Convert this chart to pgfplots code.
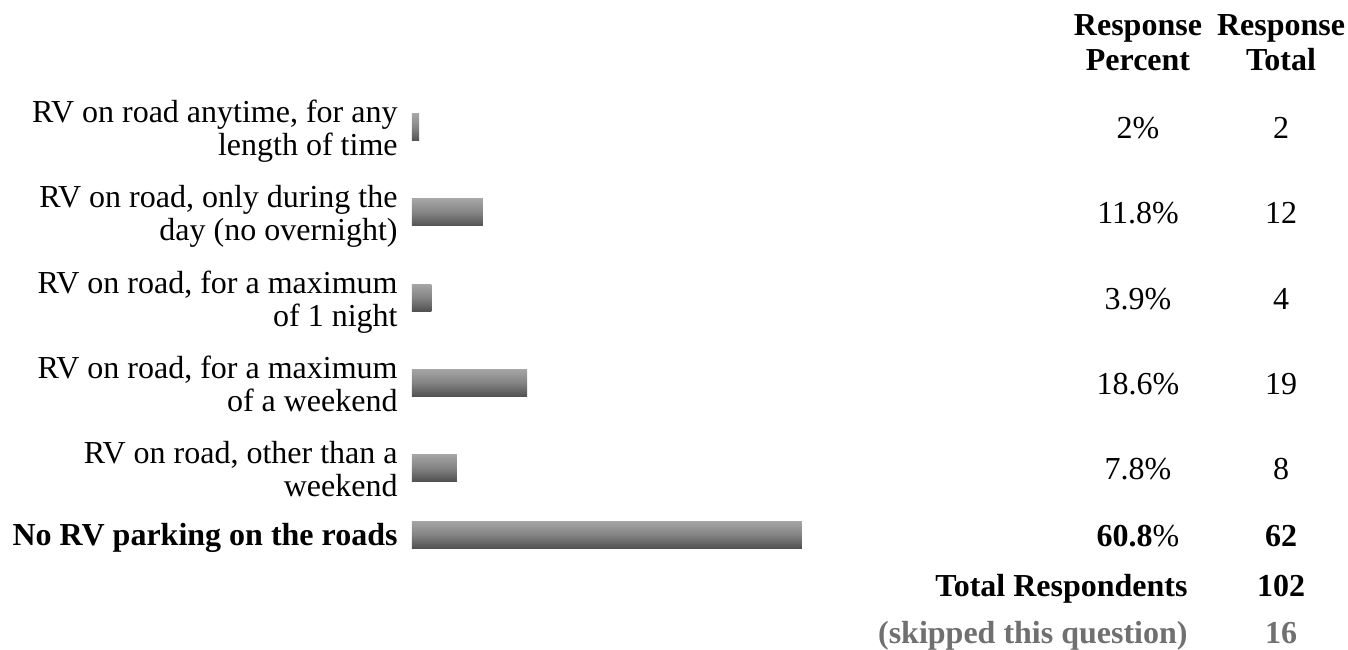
\documentclass[border=0pt]{standalone}
\usepackage{pgfplots}
\pgfplotsset{compat=1.18}
\usepackage{fontspec}
\setmainfont{Liberation Serif}
\definecolor{bartop}{RGB}{166,166,166}
\definecolor{barbot}{RGB}{82,82,82}
\definecolor{skipgray}{RGB}{112,112,112}
\pgfplotsset{rvbar/.style={xbar, bar width=27, bar shift=0pt, draw=none, top color=bartop, bottom color=barbot, middle color={rgb,255:red,132;green,132;blue,132}}}
\begin{document}
\begin{tikzpicture}[every node/.style={inner sep=0pt, font=\fontsize{16pt}{18pt}\selectfont}]
\begin{axis}[
  hide axis,
  scale only axis,
  width=468pt, height=324.5pt,
  xmin=0.92, xmax=144.70,
  ymin=0, ymax=649,
  y dir=reverse,
  clip mode=individual,
]
\path (axis cs:-62.366,0) rectangle (axis cs:144.70,649);
\addplot[rvbar] coordinates {(2,127.5)};
\addplot[rvbar] coordinates {(11.8,212.5)};
\addplot[rvbar] coordinates {(3.9,297.5)};
\addplot[rvbar] coordinates {(18.6,382.5)};
\addplot[rvbar] coordinates {(7.8,467.5)};
\addplot[rvbar] coordinates {(60.8,534.5)};
% headers
\node[anchor=base, font=\fontsize{16pt}{18pt}\selectfont\bfseries] at (axis cs:112.44,36) {Response};
\node[anchor=base, font=\fontsize{16pt}{18pt}\selectfont\bfseries] at (axis cs:112.44,71) {Percent};
\node[anchor=base, font=\fontsize{16pt}{18pt}\selectfont\bfseries] at (axis cs:134.41,36) {Response};
\node[anchor=base, font=\fontsize{16pt}{18pt}\selectfont\bfseries] at (axis cs:134.41,71) {Total};
% category labels
\node[anchor=base east] at (axis cs:-1.229,123) {RV on road anytime, for any};
\node[anchor=base east] at (axis cs:-1.229,156) {length of time};
\node[anchor=base east] at (axis cs:-1.229,208) {RV on road, only during the};
\node[anchor=base east] at (axis cs:-1.229,241) {day (no overnight)};
\node[anchor=base east] at (axis cs:-1.229,293) {RV on road, for a maximum};
\node[anchor=base east] at (axis cs:-1.229,326) {of 1 night};
\node[anchor=base east] at (axis cs:-1.229,378) {RV on road, for a maximum};
\node[anchor=base east] at (axis cs:-1.229,411) {of a weekend};
\node[anchor=base east] at (axis cs:-1.229,463) {RV on road, other than a};
\node[anchor=base east] at (axis cs:-1.229,496) {weekend};
\node[anchor=base east, font=\fontsize{16pt}{18pt}\selectfont\bfseries] at (axis cs:-1.229,545) {No RV parking on the roads};
% percent column
\node[anchor=base] at (axis cs:112.44,139) {2\%};
\node[anchor=base] at (axis cs:112.44,224) {11.8\%};
\node[anchor=base] at (axis cs:112.44,309) {3.9\%};
\node[anchor=base] at (axis cs:112.44,394) {18.6\%};
\node[anchor=base] at (axis cs:112.44,479) {7.8\%};
\node[anchor=base] at (axis cs:112.44,546) {\textbf{60.8}\%};
% total column
\node[anchor=base] at (axis cs:134.41,139) {2};
\node[anchor=base] at (axis cs:134.41,224) {12};
\node[anchor=base] at (axis cs:134.41,309) {4};
\node[anchor=base] at (axis cs:134.41,394) {19};
\node[anchor=base] at (axis cs:134.41,479) {8};
\node[anchor=base] at (axis cs:134.41,546) {\textbf{62}};
% footer
\node[anchor=base east, font=\fontsize{16pt}{18pt}\selectfont\bfseries] at (axis cs:120.12,596) {Total Respondents};
\node[anchor=base, font=\fontsize{16pt}{18pt}\selectfont\bfseries] at (axis cs:134.41,596) {102};
\node[anchor=base east, text=skipgray, font=\fontsize{16pt}{18pt}\selectfont\bfseries] at (axis cs:120.12,643) {(skipped this question)};
\node[anchor=base, text=skipgray, font=\fontsize{16pt}{18pt}\selectfont\bfseries] at (axis cs:134.41,643) {16};
\end{axis}
\end{tikzpicture}
\end{document}
